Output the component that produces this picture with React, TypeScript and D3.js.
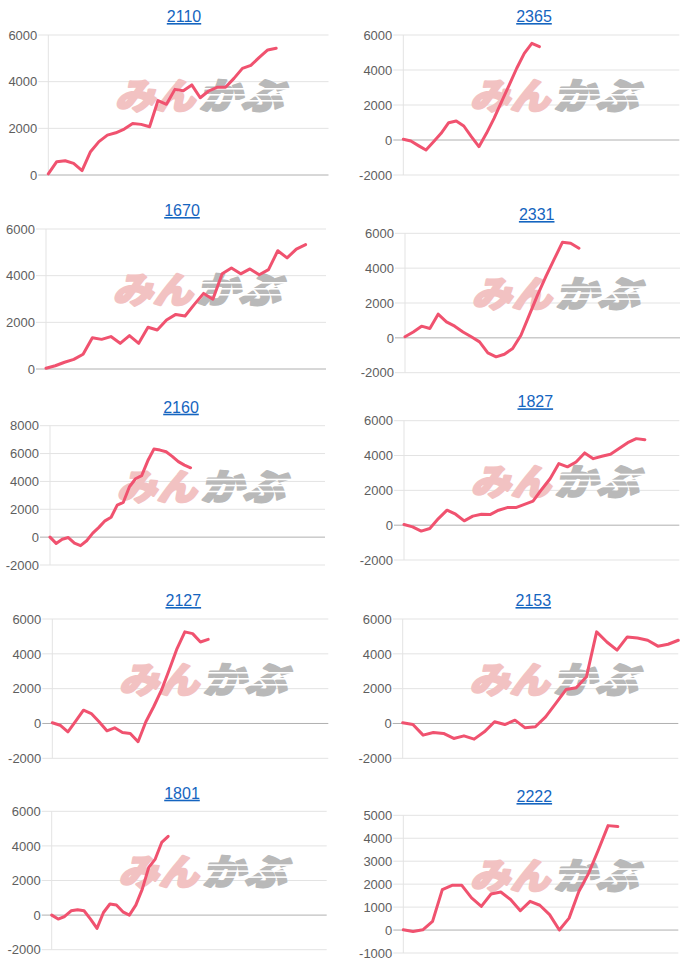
import React from "react";
import * as d3 from "d3";

// ---- data ----
const titles = ["2110", "2365", "1670", "2331", "2160", "1827", "2127", "2153", "1801", "2222"];

const s2110 = [50, 570, 610, 500, 190, 1000, 1430, 1710, 1810, 1970, 2210, 2170, 2070, 3190, 3030, 3670, 3610, 3860, 3310, 3600, 3760, 3760, 4140, 4570, 4700, 5040, 5360, 5430];
const s2365 = [40, -60, -320, -570, -100, 380, 990, 1090, 800, 190, -380, 380, 1240, 2190, 3140, 4100, 4950, 5520, 5330];
const s1670 = [30, 140, 290, 410, 630, 1340, 1270, 1390, 1100, 1430, 1100, 1790, 1670, 2100, 2340, 2270, 2770, 3240, 2990, 4080, 4330, 4080, 4290, 4040, 4260, 5070, 4760, 5140, 5330];
const s2331 = [60, 340, 670, 540, 1360, 920, 670, 340, 60, -230, -860, -1090, -940, -610, 150, 1300, 2450, 3510, 4500, 5480, 5430, 5140];
const s2160 = [0, -450, -150, -30, -430, -610, -260, 290, 700, 1170, 1430, 2300, 2500, 3620, 4190, 4420, 5480, 6320, 6250, 6130, 5800, 5420, 5170, 4980];
const s1827 = [40, -100, -340, -190, 380, 860, 630, 250, 520, 630, 610, 860, 1010, 1010, 1190, 1380, 2050, 2680, 3540, 3350, 3630, 4150, 3820, 3960, 4070, 4400, 4740, 4970, 4910];
const s2127 = [40, -100, -480, 130, 760, 570, 100, -420, -250, -520, -570, -1050, 100, 960, 1910, 3090, 4300, 5260, 5160, 4680, 4830];
const s2153 = [40, -60, -670, -520, -570, -860, -710, -900, -480, 100, -60, 190, -250, -190, 380, 1150, 1950, 2050, 2680, 5260, 4680, 4210, 4970, 4910, 4780, 4440, 4550, 4780];
const s1801 = [0, -230, -80, 250, 310, 250, -230, -770, 150, 640, 580, 190, 0, 580, 1500, 2760, 3240, 4200, 4550];
const s2222 = [10, -60, 10, 380, 1760, 1950, 1950, 1400, 1030, 1570, 1660, 1330, 840, 1250, 1080, 670, 0, 520, 1680, 2470, 3490, 4550, 4510];

const seriesList = [s2110, s2365, s1670, s2331, s2160, s1827, s2127, s2153, s1801, s2222];

// x-axis extent (number of slots) per chart
const xSlots = [33.2, 36.5, 30.2, 33.2, 45, 32, 35.4, 27, 42.5, 28.2];

// y-axis ticks per chart
const yTickMin = [0, -2000, 0, -2000, -2000, -2000, -2000, -2000, -2000, -1000];
const yTickMax = [6000, 6000, 6000, 6000, 8000, 6000, 6000, 6000, 6000, 5000];
const yTickStep = [2000, 2000, 2000, 2000, 2000, 2000, 2000, 2000, 2000, 1000];

// ---- layout ----
const layout = [
  { left: 48.3, right: 328.5, top: 35, bottom: 175, tx: 184, ty: 22 },
  { left: 403.3, right: 679.3, top: 35, bottom: 175, tx: 534, ty: 22 },
  { left: 46, right: 326, top: 229, bottom: 369, tx: 182, ty: 216 },
  { left: 405, right: 680, top: 233.3, bottom: 372.7, tx: 536.7, ty: 220 },
  { left: 50, right: 325, top: 425.7, bottom: 565, tx: 181, ty: 412.7 },
  { left: 404, right: 679.3, top: 420.7, bottom: 560, tx: 535.3, ty: 407.3 },
  { left: 52.3, right: 328.3, top: 619, bottom: 758.3, tx: 183.3, ty: 606 },
  { left: 402.7, right: 678.3, top: 619, bottom: 758.3, tx: 533.3, ty: 606 },
  { left: 51.7, right: 326.7, top: 811.3, bottom: 949.7, tx: 182, ty: 798.7 },
  { left: 403.3, right: 678.3, top: 815.3, bottom: 953, tx: 534.3, ty: 802 },
];

const LINE_COLOR = "#f0526f";
const FONT = "'Liberation Sans', Arial, Helvetica, sans-serif";

function Watermark({ x, y }: { x: number; y: number }) {
  return (
    <g transform={`translate(${x},${y})`}>
      <g transform="skewX(-14)">
        <text
          x={4}
          y={13}
          fontFamily="'Noto Sans CJK JP', sans-serif"
          fontWeight={900}
          fontSize={36}
          fill="#f2c2c2"
          stroke="#f2c2c2"
          strokeWidth={2.2}
          strokeLinejoin="round"
          textLength={80}
          lengthAdjust="spacingAndGlyphs"
        >
          みん
        </text>
        <text
          x={88}
          y={13}
          fontFamily="'Noto Sans CJK JP', sans-serif"
          fontWeight={900}
          fontSize={36}
          fill="#b9b9b9"
          stroke="#b9b9b9"
          strokeWidth={2.2}
          strokeLinejoin="round"
          textLength={84}
          lengthAdjust="spacingAndGlyphs"
        >
          かぶ
        </text>
      </g>
      {[-8, -2, 4].map((dy, i) => (
        <rect key={i} x={84} y={dy} width={92} height={1.6} fill="#ffffff" />
      ))}
    </g>
  );
}

function Panel({ idx }: { idx: number }) {
  const L = layout[idx];
  const data = seriesList[idx];
  const ticks = d3.range(yTickMin[idx], yTickMax[idx] + 1, yTickStep[idx]);
  const y = d3.scaleLinear().domain([yTickMin[idx], yTickMax[idx]]).range([L.bottom, L.top]);
  const x = d3.scaleLinear().domain([0, xSlots[idx]]).range([L.left, L.right]);
  const line = d3
    .line<number>()
    .x((_, i) => x(i))
    .y((d) => y(d));

  return (
    <g>
      <text
        x={L.tx}
        y={L.ty}
        textAnchor="middle"
        fontFamily={FONT}
        fontSize={16}
        fill="#1565c0"
        textDecoration="underline"
      >
        {titles[idx]}
      </text>
      {ticks.map((t) => (
        <g key={t}>
          <line
            x1={L.left - 10}
            x2={L.right}
            y1={y(t)}
            y2={y(t)}
            stroke={t === 0 ? "#b0b0b0" : "#e3e3e3"}
            strokeWidth={1}
          />
          <text
            x={L.left - 11}
            y={y(t)}
            dy="0.36em"
            textAnchor="end"
            fontFamily={FONT}
            fontSize={13}
            fill="#5e5e5e"
          >
            {t}
          </text>
        </g>
      ))}
      <line x1={L.left} x2={L.left} y1={L.top} y2={L.bottom} stroke="#e3e3e3" strokeWidth={1} />
      <Watermark x={L.left + 66} y={L.top + 61} />
      <path
        d={line(data) || ""}
        fill="none"
        stroke={LINE_COLOR}
        strokeWidth={3}
        strokeLinejoin="round"
        strokeLinecap="round"
      />
    </g>
  );
}

export default function App() {
  return (
    <svg
      width={700}
      height={968}
      style={{ position: "absolute", left: 0, top: 0, background: "#fff" }}
    >
      <rect width={700} height={968} fill="#ffffff" />
      {titles.map((_, i) => (
        <Panel key={i} idx={i} />
      ))}
    </svg>
  );
}
